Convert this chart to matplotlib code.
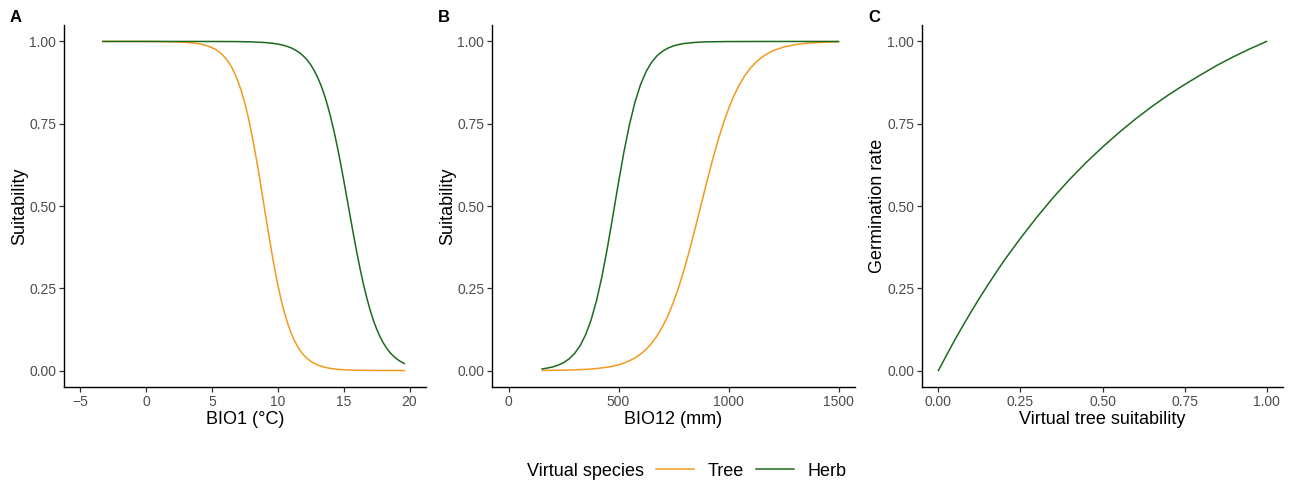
import matplotlib
matplotlib.use("Agg")
import matplotlib.pyplot as plt
from matplotlib.lines import Line2D

plt.rcParams['font.family'] = ['Liberation Sans', 'DejaVu Sans']

# ---- Data ----
# Panel A: BIO1 (°C)
bio1_tree_x = [-3.3, -1, 0, 1, 2, 3, 3.5, 4.0, 4.25, 4.5, 4.75, 5.0, 5.25, 5.5,
               5.75, 6.0, 6.25, 6.5, 6.75, 7.0, 7.25, 7.5, 7.75, 8.0, 8.25, 8.5,
               8.75, 9.0, 9.25, 9.5, 9.75, 10.0, 10.25, 10.5, 10.75, 11.0, 11.25,
               11.5, 11.75, 12.0, 12.25, 12.5, 12.75, 13.0, 13.5, 14, 14.5, 15,
               16, 17, 18, 19.6]
bio1_tree = [1.0, 1.0, 1.0, 0.9996, 0.999, 0.9974, 0.9957, 0.993, 0.991, 0.988,
             0.985, 0.981, 0.976, 0.969, 0.961, 0.950, 0.937, 0.921, 0.900, 0.875,
             0.846, 0.810, 0.769, 0.721, 0.668, 0.611, 0.550, 0.487, 0.426, 0.366,
             0.310, 0.259, 0.214, 0.175, 0.142, 0.114, 0.0911, 0.0724, 0.0573,
             0.0452, 0.0356, 0.0279, 0.0219, 0.0171, 0.0105, 0.0064, 0.0039,
             0.0024, 0.0009, 0.0003, 0.0001, 0.0]

bio1_herb_x = [-3.3, 0, 2, 4, 6, 7, 8, 9, 9.5, 10.0, 10.25, 10.5, 10.75, 11.0,
               11.25, 11.5, 11.75, 12.0, 12.25, 12.5, 12.75, 13.0, 13.25, 13.5,
               13.75, 14.0, 14.25, 14.5, 14.75, 15.0, 15.25, 15.5, 15.75, 16.0,
               16.25, 16.5, 16.75, 17.0, 17.25, 17.5, 17.75, 18.0, 18.25, 18.5,
               18.75, 19.0, 19.25, 19.6]
bio1_herb = [1.0, 1.0, 1.0, 1.0, 0.9998, 0.9995, 0.9987, 0.9967, 0.9949, 0.9920,
             0.9900, 0.9875, 0.9843, 0.9805, 0.9756, 0.9697, 0.9623, 0.9533,
             0.9421, 0.9286, 0.9121, 0.8924, 0.8688, 0.8409, 0.8085, 0.7712,
             0.7291, 0.6825, 0.6318, 0.5781, 0.5225, 0.4663, 0.4110, 0.3578,
             0.3079, 0.2621, 0.2210, 0.1847, 0.1532, 0.1262, 0.1034, 0.0843,
             0.0685, 0.0555, 0.0448, 0.0361, 0.0290, 0.0214]

# Panel B: BIO12 (mm)
bio12_tree_x = [153, 200, 250, 300, 350, 400, 450, 475, 500, 525, 550, 575, 600,
                625, 650, 675, 700, 725, 750, 775, 800, 825, 850, 875, 900, 925,
                950, 975, 1000, 1025, 1050, 1075, 1100, 1125, 1150, 1175, 1200,
                1250, 1300, 1350, 1400, 1450, 1500]
bio12_tree = [0.0004, 0.0007, 0.0012, 0.0021, 0.0035, 0.0060, 0.0103, 0.0134,
              0.0175, 0.0228, 0.0296, 0.0384, 0.0497, 0.0641, 0.0822, 0.1050,
              0.1331, 0.1673, 0.2083, 0.2561, 0.3107, 0.3710, 0.4359, 0.5028,
              0.5695, 0.6339, 0.6940, 0.7480, 0.7953, 0.8356, 0.8694, 0.8971,
              0.9194, 0.9372, 0.9513, 0.9624, 0.9710, 0.9829, 0.9899, 0.9941,
              0.9965, 0.9980, 0.9988]

bio12_herb_x = [153, 175, 200, 225, 250, 275, 300, 325, 350, 375, 400, 425, 450,
                475, 500, 525, 550, 575, 600, 625, 650, 675, 700, 725, 750, 775,
                800, 850, 900, 1000, 1200, 1500]
bio12_herb = [0.0051, 0.0073, 0.0109, 0.0161, 0.0238, 0.0352, 0.0516, 0.0750,
              0.1079, 0.1529, 0.2122, 0.2866, 0.3747, 0.4720, 0.5715, 0.6655,
              0.7480, 0.8158, 0.8685, 0.9079, 0.9363, 0.9564, 0.9703, 0.9799,
              0.9865, 0.9909, 0.9939, 0.9972, 0.9988, 0.9997, 1.0, 1.0]

# Panel C: germination rate vs virtual tree suitability
suit_x = [0, 0.025, 0.05, 0.075, 0.1, 0.125, 0.15, 0.175, 0.2, 0.25, 0.3, 0.35,
          0.4, 0.45, 0.5, 0.55, 0.6, 0.65, 0.7, 0.75, 0.8, 0.85, 0.9, 0.95, 1.0]
germ_y = [0, 0.047, 0.093, 0.137, 0.179, 0.220, 0.259, 0.297, 0.334, 0.402,
          0.466, 0.526, 0.581, 0.632, 0.679, 0.723, 0.764, 0.802, 0.837, 0.869,
          0.899, 0.928, 0.954, 0.978, 1.000]

y_ticks = [0.00, 0.25, 0.50, 0.75, 1.00]
y_ticklabels = ["0.00", "0.25", "0.50", "0.75", "1.00"]

TREE_COL = "#F39A1E"
HERB_COL = "#1D6A1D"
TICK_COL = "#4D4D4D"
LW = 1.1

W, H = 1293, 484
fig = plt.figure(figsize=(W / 100, H / 100), dpi=100)


def make_ax(left_px, right_px):
    top_px, bottom_px = 25, 387
    ax = fig.add_axes([left_px / W, 1 - bottom_px / H,
                       (right_px - left_px) / W, (bottom_px - top_px) / H])
    for s in ("top", "right"):
        ax.spines[s].set_visible(False)
    for s in ("left", "bottom"):
        ax.spines[s].set_linewidth(1.0)
        ax.spines[s].set_color("black")
    ax.tick_params(axis="both", length=3.5, width=0.9, color="#333333",
                   labelcolor=TICK_COL, labelsize=10, pad=2)
    ax.set_ylim(-0.05, 1.05)
    ax.set_yticks(y_ticks)
    ax.set_yticklabels(y_ticklabels)
    return ax


axA = make_ax(64, 426)
axA.plot(bio1_tree_x, bio1_tree, color=TREE_COL, lw=LW)
axA.plot(bio1_herb_x, bio1_herb, color=HERB_COL, lw=LW)
axA.set_xlim(-6.25, 21.25)
axA.set_xticks([-5, 0, 5, 10, 15, 20])
axA.set_xticklabels(["\u22125", "0", "5", "10", "15", "20"])
axA.set_xlabel("BIO1 (°C)", fontsize=13, labelpad=1.5)
axA.set_ylabel("Suitability", fontsize=13, labelpad=1)

axB = make_ax(492, 855)
axB.plot(bio12_tree_x, bio12_tree, color=TREE_COL, lw=LW)
axB.plot(bio12_herb_x, bio12_herb, color=HERB_COL, lw=LW)
axB.set_xlim(-75, 1575)
axB.set_xticks([0, 500, 1000, 1500])
axB.set_xlabel("BIO12 (mm)", fontsize=13, labelpad=1.5)
axB.set_ylabel("Suitability", fontsize=13, labelpad=1)

axC = make_ax(922, 1283)
axC.plot(suit_x, germ_y, color=HERB_COL, lw=LW)
axC.set_xlim(-0.05, 1.05)
axC.set_xticks([0, 0.25, 0.5, 0.75, 1.0])
axC.set_xticklabels(["0.00", "0.25", "0.50", "0.75", "1.00"])
axC.set_xlabel("Virtual tree suitability", fontsize=13, labelpad=1.5)
axC.set_ylabel("Germination rate", fontsize=13, labelpad=1)

# Panel tags
for lbl, xp in (("A", 10), ("B", 438), ("C", 868)):
    fig.text(xp / W, 1 - 18 / H, lbl, fontsize=12, fontweight="bold",
             ha="left", va="center")

# Legend
fig.text(527 / W, 1 - 471 / H, "Virtual species", fontsize=13,
         ha="left", va="center")
handles = [Line2D([], [], color=TREE_COL, lw=LW),
           Line2D([], [], color=HERB_COL, lw=LW)]
fig.legend(handles, ["Tree", "Herb"], ncol=2, frameon=False, fontsize=13,
           loc="center left", bbox_to_anchor=(656 / W, 1 - 471 / H),
           handlelength=2.1, handletextpad=0.75, columnspacing=0.7,
           borderaxespad=0, borderpad=0)

fig.savefig("out.png", dpi=100, facecolor="white")
